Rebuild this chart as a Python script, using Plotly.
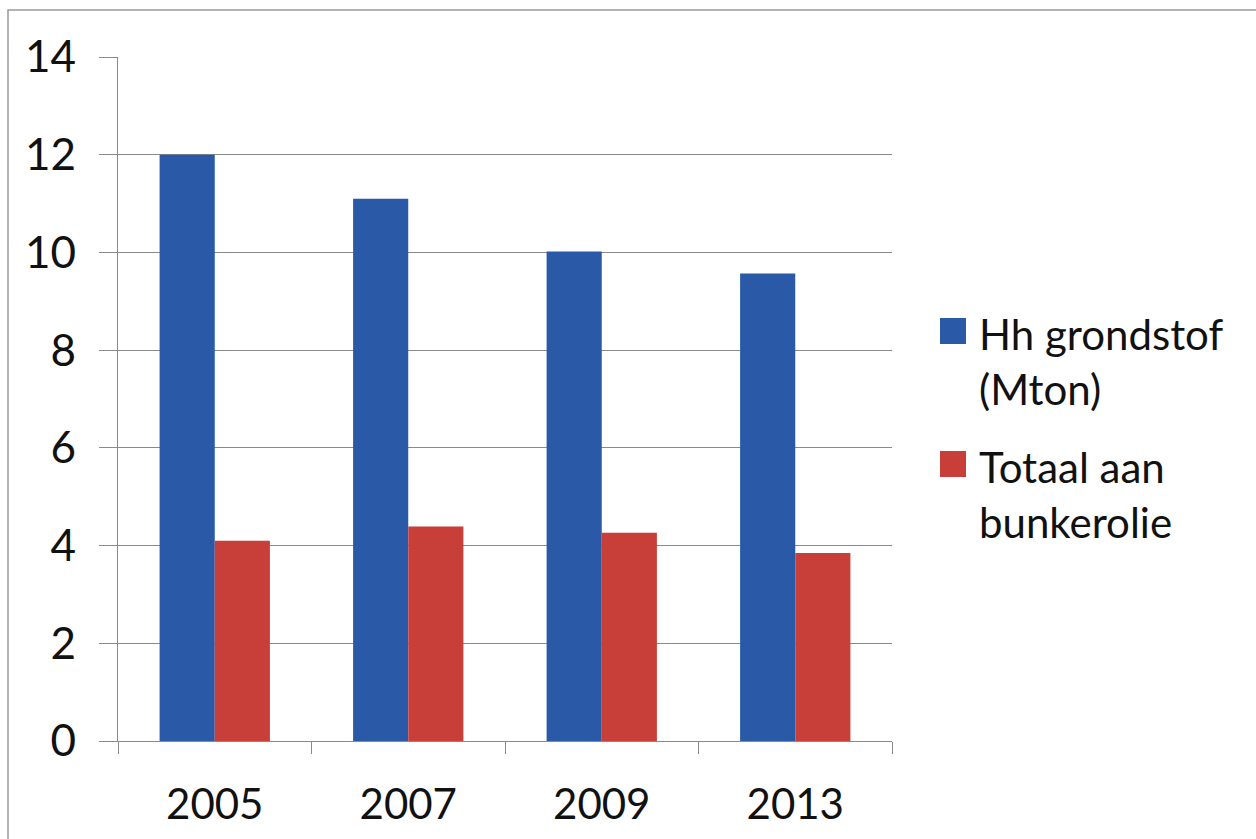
import plotly.graph_objects as go

years = ["2005", "2007", "2009", "2013"]
hh_grondstof = [12.0, 11.1, 10.02, 9.57]
bunkerolie = [4.1, 4.39, 4.26, 3.85]
series_names = ["Hh grondstof<br>(Mton)", "Totaal aan<br>bunkerolie"]
colors = ["#2A5AA7", "#C83F3A"]
y_ticks = [0, 2, 4, 6, 8, 10, 12, 14]

W, H = 1256, 839
L, R, T, B = 118, 892, 57, 741
pw, ph = R - L, B - T

def px(x):
    return (x - L) / pw

def py(y):
    return (B - y) / ph

fig = go.Figure()
fig.add_trace(go.Bar(x=years, y=hh_grondstof, name=series_names[0],
                     marker=dict(color=colors[0], line=dict(width=0))))
fig.add_trace(go.Bar(x=years, y=bunkerolie, name=series_names[1],
                     marker=dict(color=colors[1], line=dict(width=0))))

font = "Lato, 'Open Sans', sans-serif"

shapes = [
    dict(type="rect", xref="paper", yref="paper",
         x0=px(8), x1=px(1270), y0=py(850), y1=py(10),
         line=dict(color="#9a9a9a", width=1.5), fillcolor="rgba(0,0,0,0)", layer="below"),
]
annotations = []
legend_items = [(318, 332), (451, 465)]
for (sq_top, txt_y), name, col in zip(legend_items, series_names, colors):
    shapes.append(dict(type="rect", xref="paper", yref="paper",
                       x0=px(940), x1=px(966), y0=py(sq_top + 26), y1=py(sq_top),
                       line=dict(width=0), fillcolor=col))
    annotations.append(dict(xref="paper", yref="paper", x=px(977), y=py(txt_y - 25),
                            xanchor="left", yanchor="top", align="left", showarrow=False,
                            text=name, font=dict(family=font, size=42, color="#111111")))

fig.update_layout(
    width=W, height=H,
    margin=dict(l=L, r=W - R, t=T, b=H - B, pad=0),
    paper_bgcolor="white", plot_bgcolor="white",
    barmode="group", bargap=0.43, bargroupgap=0,
    showlegend=False,
    font=dict(family=font, color="#111111"),
    shapes=shapes, annotations=annotations,
    xaxis=dict(type="category", tickson="boundaries", ticks="outside", ticklen=12,
               tickcolor="#8a8a8a", tickwidth=1.2, automargin=False,
               showline=True, linecolor="#8a8a8a", linewidth=1.2,
               showgrid=False, ticklabelstandoff=26,
               tickfont=dict(family=font, size=42, color="#111111")),
    yaxis=dict(range=[0, 14], tickvals=y_ticks, ticks="outside", ticklen=18,
               tickcolor="#8a8a8a", tickwidth=1.2, automargin=False,
               showline=True, linecolor="#8a8a8a", linewidth=1.2,
               showgrid=True, gridcolor="#8a8a8a", gridwidth=1.2,
               zeroline=False, ticklabelstandoff=14,
               tickfont=dict(family=font, size=44, color="#111111")),
)

fig.write_html("out.html")
